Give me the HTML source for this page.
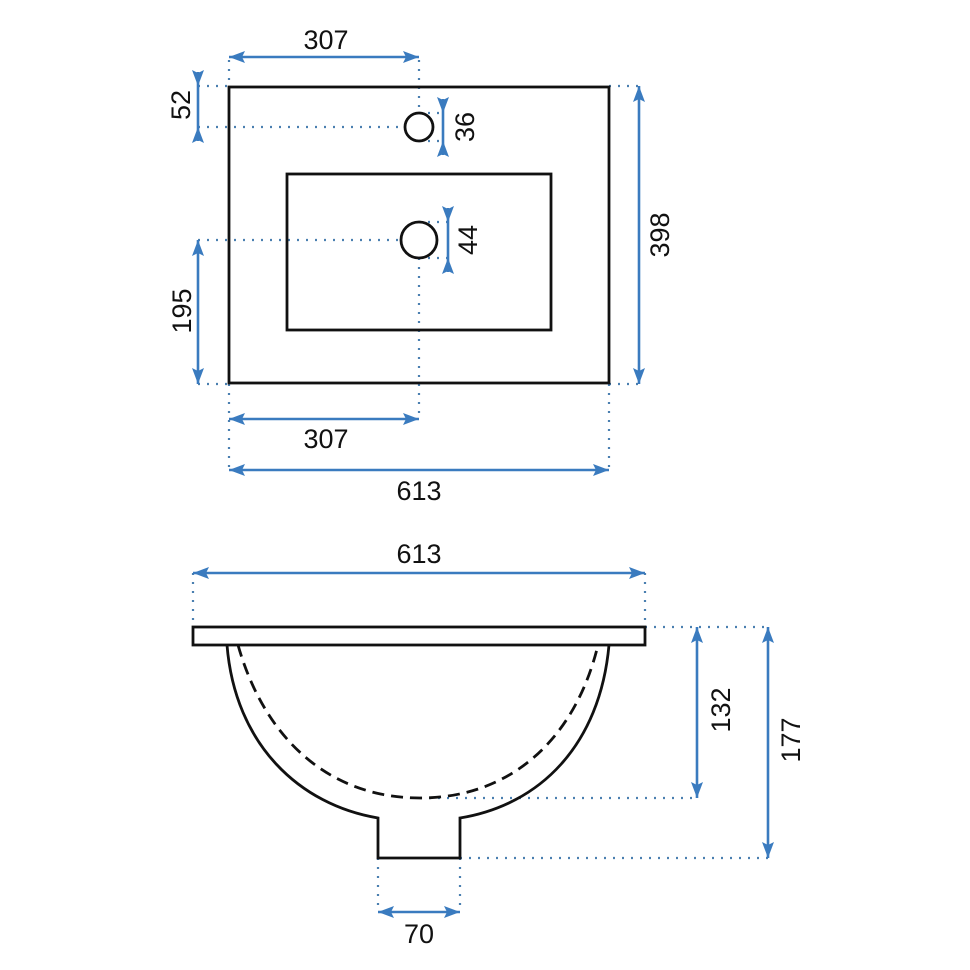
<!DOCTYPE html>
<html><head><meta charset="utf-8"><style>
html,body{margin:0;padding:0;background:#fff;}
svg{display:block;}
text{font-family:"Liberation Sans",Arial,sans-serif;font-size:27px;fill:#111;}
</style></head><body>
<svg width="970" height="970" viewBox="0 0 970 970" xmlns="http://www.w3.org/2000/svg">
<defs>
<marker id="a" viewBox="0 0 16 12" refX="16" refY="6" markerWidth="16" markerHeight="12" markerUnits="userSpaceOnUse" orient="auto-start-reverse">
<path d="M0,0 L16,6 L0,12 L3,6 Z" fill="#3a7bbf"/>
</marker>
</defs>
<g stroke="#4a7fb0" stroke-width="2.2" stroke-dasharray="2 7" fill="none">
<line x1="229" y1="60" x2="229" y2="86"/>
<line x1="419" y1="60" x2="419" y2="113"/>
<line x1="198" y1="86" x2="229" y2="86"/>
<line x1="198" y1="127" x2="405" y2="127"/>
<line x1="198" y1="240" x2="401" y2="240"/>
<line x1="419" y1="258" x2="419" y2="420"/>
<line x1="198" y1="384" x2="229" y2="384"/>
<line x1="229" y1="384" x2="229" y2="470"/>
<line x1="609" y1="384" x2="609" y2="470"/>
<line x1="609" y1="86" x2="639" y2="86"/>
<line x1="609" y1="384" x2="639" y2="384"/>
<line x1="419" y1="113" x2="443" y2="113"/>
<line x1="419" y1="141" x2="443" y2="141"/>
<line x1="419" y1="222" x2="448" y2="222"/>
<line x1="419" y1="258" x2="448" y2="258"/>
<line x1="193" y1="573" x2="193" y2="627"/>
<line x1="645" y1="573" x2="645" y2="627"/>
<line x1="645" y1="627" x2="768" y2="627"/>
<line x1="420" y1="798" x2="697" y2="798"/>
<line x1="460" y1="858" x2="768" y2="858"/>
<line x1="378" y1="858" x2="378" y2="912"/>
<line x1="460" y1="858" x2="460" y2="912"/>
</g>
<g stroke="#3a7bbf" stroke-width="2.6" fill="none">
<line x1="229" y1="57" x2="419" y2="57" marker-start="url(#a)" marker-end="url(#a)"/>
<line x1="198" y1="72" x2="198" y2="86" marker-end="url(#a)"/>
<line x1="198" y1="141" x2="198" y2="127" marker-end="url(#a)"/>
<line x1="198" y1="86" x2="198" y2="127"/>
<line x1="443" y1="99" x2="443" y2="113" marker-end="url(#a)"/>
<line x1="443" y1="155" x2="443" y2="141" marker-end="url(#a)"/>
<line x1="443" y1="113" x2="443" y2="141"/>
<line x1="448" y1="208" x2="448" y2="222" marker-end="url(#a)"/>
<line x1="448" y1="272" x2="448" y2="258" marker-end="url(#a)"/>
<line x1="448" y1="222" x2="448" y2="258"/>
<line x1="198" y1="240" x2="198" y2="384" marker-start="url(#a)" marker-end="url(#a)"/>
<line x1="639" y1="86" x2="639" y2="384" marker-start="url(#a)" marker-end="url(#a)"/>
<line x1="229" y1="419" x2="419" y2="419" marker-start="url(#a)" marker-end="url(#a)"/>
<line x1="229" y1="470" x2="609" y2="470" marker-start="url(#a)" marker-end="url(#a)"/>
<line x1="193" y1="573" x2="645" y2="573" marker-start="url(#a)" marker-end="url(#a)"/>
<line x1="697" y1="627" x2="697" y2="798" marker-start="url(#a)" marker-end="url(#a)"/>
<line x1="768" y1="627" x2="768" y2="858" marker-start="url(#a)" marker-end="url(#a)"/>
<line x1="378" y1="912" x2="460" y2="912" marker-start="url(#a)" marker-end="url(#a)"/>
</g>
<g stroke="#111" stroke-width="2.8" fill="none">
<rect x="229" y="87" width="380" height="296"/>
<rect x="287" y="174" width="264" height="156"/>
<circle cx="419" cy="127" r="14"/>
<circle cx="419" cy="240" r="18"/>
<rect x="193" y="627" width="452" height="18"/>
<path d="M227,645 C235,745 300,805 378,818 L378,858 L460,858 L460,818 C540,805 600,745 609,645"/>
<path d="M238,645 C265,740 330,798 420,798 C510,798 575,740 598,645" stroke-dasharray="12 7"/>
</g>
<g text-anchor="middle">
<text x="326" y="49">307</text>
<text x="326" y="448">307</text>
<text x="419" y="500">613</text>
<text x="419" y="563">613</text>
<text x="419" y="943">70</text>
<text transform="translate(190,105) rotate(-90)">52</text>
<text transform="translate(191,311) rotate(-90)">195</text>
<text transform="translate(474,127) rotate(-90)">36</text>
<text transform="translate(477,240) rotate(-90)">44</text>
<text transform="translate(669,235) rotate(-90)">398</text>
<text transform="translate(730,710) rotate(-90)">132</text>
<text transform="translate(800,740) rotate(-90)">177</text>
</g>
</svg>
</body></html>
